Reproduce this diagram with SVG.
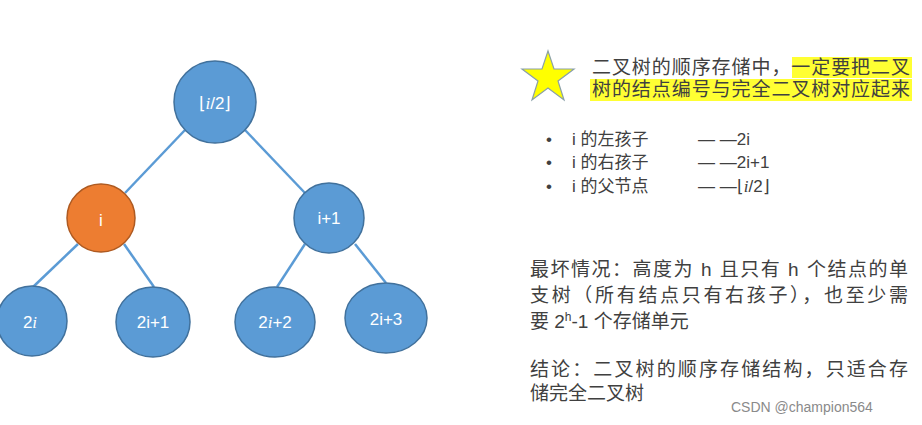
<svg xmlns="http://www.w3.org/2000/svg" width="922" height="425" viewBox="0 0 922 425">
<style>
.n{fill:#5b9bd5;stroke:#41719c;stroke-width:1.5}
.o{fill:#ed7d31;stroke:#ae5a21;stroke-width:1.5}
.l{fill:#fff;font-family:"Liberation Sans",sans-serif;font-size:17px;text-anchor:middle}
.t{fill:#404040;font-family:"Liberation Sans","Noto Sans CJK SC",sans-serif;font-size:19px}
.e{stroke:#5b9bd5;stroke-width:2.5;fill:none}
</style>
<rect width="922" height="425" fill="#fff"/>
<g id="edges">
<line class="e" x1="185" y1="130" x2="125" y2="193"/>
<line class="e" x1="245" y1="130" x2="305" y2="193"/>
<line class="e" x1="78" y1="244" x2="33" y2="287"/>
<line class="e" x1="124" y1="244" x2="154" y2="287"/>
<line class="e" x1="305" y1="244" x2="277" y2="287"/>
<line class="e" x1="355" y1="244" x2="386" y2="283"/>
</g>
<g id="root"><circle class="n" cx="215" cy="102" r="41"/><text class="l" x="215" y="109" font-size="19">⌊<tspan font-style="italic" font-family="Liberation Serif">i</tspan>/2⌋</text></g>
<g id="ni"><circle class="o" cx="101" cy="218" r="34"/><text class="l" x="101" y="226" font-size="20">i</text></g>
<g id="ni1"><circle class="n" cx="329" cy="218" r="35"/><text class="l" x="329" y="224">i+1</text></g>
<g id="n2i"><ellipse class="n" cx="32" cy="321" rx="35" ry="35"/><text class="l" x="30" y="328">2<tspan font-style="italic" font-family="Liberation Serif">i</tspan></text></g>
<g id="n2i1"><ellipse class="n" cx="153" cy="322" rx="37" ry="35"/><text class="l" x="153" y="328">2i+1</text></g>
<g id="n2i2"><ellipse class="n" cx="275" cy="322" rx="40" ry="35"/><text class="l" x="275" y="328">2<tspan font-style="italic" font-family="Liberation Serif">i</tspan>+2</text></g>
<g id="n2i3"><ellipse class="n" cx="386" cy="318" rx="41" ry="35"/><text class="l" x="386" y="325">2i+3</text></g>
<g id="note">
<polygon points="548,51 554,69 574,69 558,81 564,100 548,88 532,100 538,81 522,69 542,69" fill="#ffff00" stroke="#8aa0a8" stroke-width="1.2"/>
<rect x="792" y="57" width="120" height="21" fill="#ffff33"/>
<rect x="590" y="79" width="322" height="22" fill="#ffff33"/>
<text class="t" x="592" y="74" font-size="19" textLength="318">二叉树的顺序存储中，一定要把二叉</text>
<text class="t" x="592" y="96" font-size="19" textLength="318">树的结点编号与完全二叉树对应起来</text>
<g style="font-size:17px">
<text class="t" x="546" y="145" style="font-size:17px">•</text><text class="t" x="572" y="145" style="font-size:17px">i 的左孩子</text><text class="t" x="698" y="145" style="font-size:17px">— —2i</text>
<text class="t" x="546" y="168" style="font-size:17px">•</text><text class="t" x="572" y="168" style="font-size:17px">i 的右孩子</text><text class="t" x="698" y="168" style="font-size:17px">— —2i+1</text>
<text class="t" x="546" y="192" style="font-size:17px">•</text><text class="t" x="572" y="192" style="font-size:17px">i 的父节点</text><text class="t" x="698" y="192" style="font-size:17px">— —⌊<tspan font-style="italic" font-family="Liberation Serif">i</tspan>/2⌋</text>
</g>
<text class="t" x="530" y="276" textLength="378">最坏情况：高度为 h 且只有 h 个结点的单</text>
<text class="t" x="530" y="302" textLength="378">支树（所有结点只有右孩子），也至少需</text>
<text class="t" x="530" y="328">要 2<tspan font-size="12" dy="-7">h</tspan><tspan dy="7">-1 个存储单元</tspan></text>
<text class="t" x="530" y="376" textLength="378">结论：二叉树的顺序存储结构，只适合存</text>
<text class="t" x="530" y="400">储完全二叉树</text>
</g>
<text x="731" y="412" font-family="'Liberation Sans','Noto Sans CJK SC',sans-serif" font-size="14" fill="#8a8a8a">CSDN @champion564</text>
</svg>
